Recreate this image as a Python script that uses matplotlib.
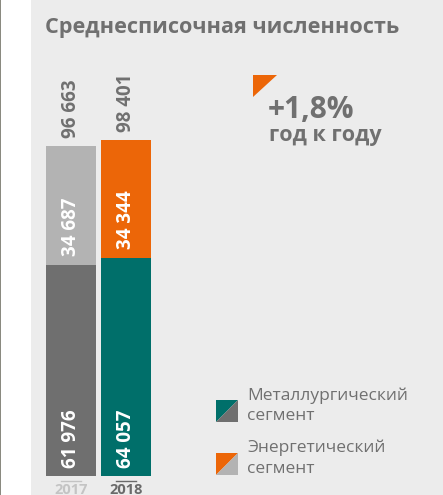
import matplotlib
matplotlib.use("Agg")
import matplotlib.pyplot as plt
from matplotlib.patches import Rectangle, Polygon

W, H = 443, 495
DPI = 100

years = ["2017", "2018"]
metal = [61976, 64057]
energy = [34687, 34344]
totals = [96663, 98401]
title = "Среднесписочная численность"
growth = "+1,8%"
growth_sub = "год к году"
legend_labels = ["Металлургический\nсегмент", "Энергетический\nсегмент"]

BG = "#ececec"
TXT = "#707070"
metal_colors = ["#6f6f6f", "#006f6a"]
energy_colors = ["#b3b3b3", "#ec6608"]
FONT = "Open Sans"

fig = plt.figure(figsize=(W / DPI, H / DPI), dpi=DPI)
fig.patch.set_facecolor("white")


def fx(px):
    return px / W


def fy(py):
    return 1 - py / H


# background panel
bg = fig.add_axes([0, 0, 1, 1])
bg.set_xlim(0, W)
bg.set_ylim(H, 0)
bg.axis("off")
bg.add_patch(Rectangle((31, 0), W - 31, H, color=BG, lw=0))
bg.add_patch(Rectangle((0, 0), 1.5, H, color="#8a8a80", lw=0))

# bar axes
ax_left, ax_right = 31, 443
ax_bottom_px, ax_top_px = 476, 40
ax = fig.add_axes([fx(ax_left), fy(ax_bottom_px), fx(ax_right - ax_left),
                   (ax_bottom_px - ax_top_px) / H])
ax.patch.set_alpha(0)
scale = 0.00341  # px per unit
ax.set_ylim(0, (ax_bottom_px - ax_top_px) / scale)
ppu = 55.0
ax.set_xlim(-(71 - ax_left) / ppu, 1 + (ax_right - 126) / ppu)
ax.axis("off")

xs = [0, 1]
bw = 50 / ppu
ax.bar(xs, metal, width=bw, color=metal_colors, lw=0)
ax.bar(xs, energy, width=bw, bottom=metal, color=energy_colors, lw=0)

fmt = lambda v: f"{v:,}".replace(",", " ")
for i, x in enumerate(xs):
    ax.text(x, totals[i] + 8 / scale, fmt(totals[i]), rotation=90, ha="center",
            va="bottom", color=TXT, fontsize=13.5, fontweight="bold", family=FONT)
    ax.text(x, metal[i] + 9 / scale, fmt(energy[i]), rotation=90, ha="center",
            va="bottom", color="white", fontsize=13.5, fontweight="bold", family=FONT)
    ax.text(x, 8 / scale, fmt(metal[i]), rotation=90, ha="center",
            va="bottom", color="white", fontsize=13.5, fontweight="bold", family=FONT)

# year labels and tick lines
year_colors = ["#c4c4c4", "#6a6a6a"]
for i, x in enumerate(xs):
    ax.plot([x - 10 / ppu, x + 10 / ppu], [-4.5 / scale, -4.5 / scale],
            color=year_colors[i], lw=1, clip_on=False)
    ax.text(x, -13.5 / scale, years[i], ha="center", va="center",
            color=year_colors[i], fontsize=10.5, fontweight="bold", family=FONT)

# title
fig.text(fx(45), fy(33), title, ha="left", va="baseline", color=TXT,
         fontsize=15.6, fontweight="bold", family=FONT)

# growth indicator
bg.add_patch(Polygon([(253, 75), (277, 75), (253, 97)], closed=True,
                     color="#ec6608", lw=0))
fig.text(fx(268), fy(117.5), growth, ha="left", va="baseline", color=TXT,
         fontsize=21.5, fontweight="bold", family=FONT)
fig.text(fx(269), fy(141.5), growth_sub, ha="left", va="baseline", color=TXT,
         fontsize=15.5, fontweight="bold", family=FONT)

# legend
icons = [(400, metal_colors[1], metal_colors[0]),
         (453, energy_colors[1], energy_colors[0])]
for (top, c1, c2), lab in zip(icons, legend_labels):
    l, r, b = 216, 238, top + 22
    bg.add_patch(Polygon([(l, top), (r, top), (l, b)], closed=True, color=c1, lw=0))
    bg.add_patch(Polygon([(r, top), (r, b), (l, b)], closed=True, color=c2, lw=0))
    fig.text(fx(247), fy(top - 13), lab, ha="left", va="top", color=TXT,
             fontsize=12.5, family=FONT, linespacing=1.35)

fig.savefig("out.png", dpi=DPI, facecolor=fig.get_facecolor())
